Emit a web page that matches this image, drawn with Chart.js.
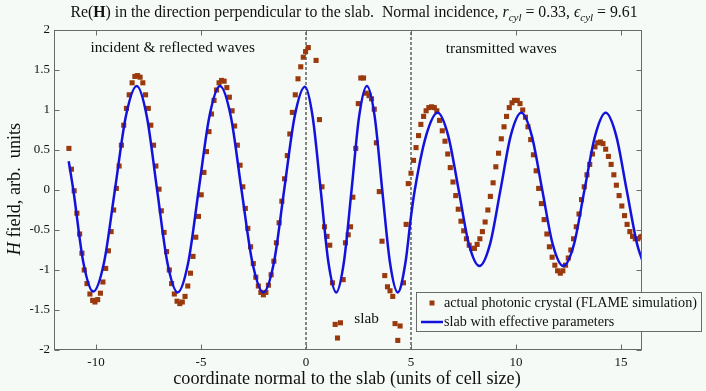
<!DOCTYPE html>
<html>
<head>
<meta charset="utf-8">
<script src="https://cdn.jsdelivr.net/npm/chart.js@4.4.0/dist/chart.umd.min.js"></script>
<style>
  body { margin: 0; background: #f6faf6; }
  canvas { display: block; }
</style>
</head>
<body>
<canvas id="chart" width="706" height="391"></canvas>
<script>
// FLAME simulation of the photonic crystal (squares)
const crystalX = [
  -11.29, -11.17, -11.04, -10.91, -10.78, -10.67, -10.56, -10.43, -10.29, -10.16,
  -10.05, -9.92, -9.79, -9.67, -9.54, -9.41, -9.28, -9.16, -9.03, -8.90,
  -8.79, -8.68, -8.55, -8.42, -8.28, -8.15, -8.02, -7.90, -7.77, -7.64,
  -7.51, -7.39, -7.26, -7.15, -7.00, -6.89, -6.76, -6.64, -6.51, -6.40,
  -6.27, -6.14, -6.01, -5.89, -5.76, -5.63, -5.50, -5.38, -5.25, -5.12,
  -4.99, -4.86, -4.74, -4.62, -4.50, -4.38, -4.26, -4.14, -4.02, -3.90,
  -3.77, -3.65, -3.52, -3.40, -3.27, -3.14, -3.01, -2.89, -2.77, -2.64,
  -2.51, -2.39, -2.27, -2.15, -2.03, -1.91, -1.79, -1.66, -1.53, -1.41,
  -1.28, -1.15, -1.02, -0.89, -0.77, -0.65, -0.51, -0.38, -0.25, -0.13,
  -0.02, 0.11, 0.48, 0.64, 0.76, 0.88, 1.00, 1.13, 1.26, 1.39,
  1.50, 1.64, 1.77, 1.88, 2.01, 2.12, 2.23, 2.37, 2.49, 2.61,
  2.74, 2.87, 3.00, 3.12, 3.25, 3.35, 3.49, 3.62, 3.75, 3.88,
  4.00, 4.13, 4.24, 4.37, 4.48, 4.64, 4.77, 4.87, 5.00, 5.12,
  5.24, 5.36, 5.47, 5.60, 5.72, 5.85, 5.98, 6.11, 6.23, 6.36,
  6.49, 6.62, 6.75, 6.87, 7.00, 7.13, 7.25, 7.38, 7.51, 7.64,
  7.77, 7.89, 8.02, 8.15, 8.28, 8.40, 8.53, 8.66, 8.78, 8.91,
  9.04, 9.17, 9.30, 9.43, 9.55, 9.68, 9.81, 9.93, 10.06, 10.19,
  10.32, 10.45, 10.57, 10.70, 10.83, 10.96, 11.08, 11.21, 11.34, 11.47,
  11.59, 11.72, 11.85, 11.98, 12.11, 12.23, 12.36, 12.49, 12.61, 12.74,
  12.87, 13.00, 13.12, 13.25, 13.38, 13.51, 13.64, 13.76, 13.89, 14.02,
  14.14, 14.27, 14.40, 14.53, 14.66, 14.78, 14.91, 15.04, 15.17, 15.29,
  15.42, 15.55, 15.68, 15.80, 15.93, 16.00
];
const crystalH = [
  0.52, 0.26, -0.01, -0.29, -0.55, -0.79, -1.00, -1.17, -1.30, -1.38,
  -1.40, -1.37, -1.29, -1.15, -0.98, -0.76, -0.52, -0.25, 0.02, 0.30,
  0.56, 0.81, 1.02, 1.19, 1.34, 1.42, 1.43, 1.41, 1.34, 1.19,
  1.02, 0.81, 0.56, 0.30, 0.01, -0.26, -0.53, -0.77, -1.00, -1.17,
  -1.30, -1.39, -1.42, -1.40, -1.33, -1.20, -1.04, -0.83, -0.59, -0.33,
  -0.06, 0.22, 0.48, 0.73, 0.95, 1.12, 1.25, 1.34, 1.37, 1.36,
  1.28, 1.16, 0.99, 0.80, 0.56, 0.31, 0.04, -0.23, -0.48, -0.71,
  -0.92, -1.09, -1.20, -1.28, -1.31, -1.28, -1.19, -1.06, -0.89, -0.66,
  -0.41, -0.14, 0.14, 0.43, 0.70, 0.97, 1.19, 1.39, 1.54, 1.66,
  1.73, 1.78, 1.62, 0.88, 0.04, -0.46, -0.58, -0.69, -1.16, -1.68,
  -1.85, -1.66, -1.12, -0.66, -0.56, -0.46, -0.09, 0.52, 1.08, 1.40,
  1.40, 1.21, 1.18, 1.14, 1.01, 0.59, -0.02, -0.64, -1.07, -1.21,
  -1.26, -1.33, -1.67, -1.88, -1.70, -1.16, -0.43, 0.08, 0.21, 0.37,
  0.53, 0.68, 0.82, 0.92, 0.99, 1.03, 1.04, 1.03, 0.99, 0.87,
  0.74, 0.61, 0.45, 0.28, 0.10, -0.07, -0.24, -0.39, -0.51, -0.61,
  -0.69, -0.73, -0.73, -0.68, -0.61, -0.52, -0.40, -0.25, -0.08, 0.09,
  0.29, 0.46, 0.64, 0.79, 0.92, 1.03, 1.09, 1.12, 1.12, 1.08,
  1.00, 0.91, 0.79, 0.63, 0.44, 0.24, 0.02, -0.17, -0.37, -0.55,
  -0.71, -0.84, -0.94, -1.01, -1.04, -1.01, -0.94, -0.85, -0.75, -0.61,
  -0.46, -0.30, -0.12, 0.04, 0.19, 0.32, 0.45, 0.54, 0.59, 0.60,
  0.58, 0.51, 0.42, 0.32, 0.19, 0.06, -0.07, -0.20, -0.32, -0.43,
  -0.52, -0.58, -0.61, -0.61, -0.59, -0.58
];

// homogeneous slab with effective parameters (blue curve)
const effectiveX = [
  -11.30, -11.08, -10.60, -10.13, -9.62, -9.10, -8.58, -8.06, -7.58, -7.09,
  -6.60, -6.11, -5.61, -5.11, -4.60, -4.10, -3.58, -3.07, -2.55, -2.03,
  -1.53, -1.04, -0.54, -0.05, 0.32, 0.70, 1.07, 1.44, 1.80, 2.17,
  2.53, 2.90, 3.27, 3.63, 4.00, 4.37, 4.74, 5.00, 5.18, 5.72,
  6.27, 6.77, 7.27, 7.76, 8.26, 8.76, 9.26, 9.75, 10.25, 10.75,
  11.25, 11.75, 12.25, 12.76, 13.26, 13.77, 14.27, 14.77, 15.27, 15.77, 16.00
];
const effectiveH = [
  0.36, 0.00, -0.91, -1.27, -0.91, 0.00, 0.92, 1.30, 0.92, 0.00,
  -0.91, -1.28, -0.91, 0.00, 0.92, 1.30, 0.92, 0.00, -0.91, -1.28,
  -0.91, 0.00, 0.92, 1.29, 0.91, 0.00, -0.91, -1.28, -0.91, 0.00,
  0.92, 1.30, 0.92, 0.00, -0.91, -1.28, -0.90, -0.33, 0.00, 0.68,
  0.965, 0.68, 0.00, -0.68, -0.95, -0.68, 0.00, 0.68, 0.965, 0.68,
  0.00, -0.68, -0.95, -0.68, 0.00, 0.68, 0.965, 0.68, 0.00, -0.68, -0.87
];

const slabEdges = [0, 5];
const xTicks = [-10, -5, 0, 5, 10, 15];
const yTicks = [-2, -1.5, -1, -0.5, 0, 0.5, 1, 1.5, 2];
const seriesNames = ["actual photonic crystal (FLAME simulation)", "slab with effective parameters"];

const bgColor = "#f6faf6";
const crystalColor = "#9a3a0c";
const slabColor = "#1212dc";
const serif = "'Liberation Serif', 'DejaVu Serif', serif";

Chart.defaults.font.family = serif;
Chart.defaults.color = "#111";

function toPoints(xs, ys) {
    return xs.map((x, i) => ({ x: x, y: ys[i] }));
}

// draw a row of text pieces with mixed styles
function drawRuns(ctx, runs, x, y, size, align) {
    let total = 0;
    const widths = runs.map(r => {
        const s = r.sub ? size * 0.7 : size;
        ctx.font = `${r.style || "normal"} ${r.weight || "normal"} ${s}px ${serif}`;
        const w = ctx.measureText(r.t).width;
        total += w;
        return w;
    });
    let cx = align === "center" ? x - total / 2 : x;
    ctx.textBaseline = "alphabetic";
    ctx.textAlign = "left";
    runs.forEach((r, i) => {
        const s = r.sub ? size * 0.7 : size;
        ctx.font = `${r.style || "normal"} ${r.weight || "normal"} ${s}px ${serif}`;
        ctx.fillText(r.t, cx, r.sub ? y + size * 0.25 : y);
        cx += widths[i];
    });
}

const canvasBg = {
    id: "canvasBg",
    beforeDraw(chart) {
        const ctx = chart.ctx;
        ctx.save();
        ctx.fillStyle = bgColor;
        ctx.fillRect(0, 0, chart.width, chart.height);
        ctx.restore();
    }
};

// box round the plot with ticks pointing inwards on all four sides
const frame = {
    id: "frame",
    afterDatasetsDraw(chart) {
        const { ctx, chartArea: a, scales } = chart;
        const l = Math.round(a.left) + 0.5, r = Math.round(a.right) - 0.5;
        const t = Math.round(a.top) + 0.5, b = Math.round(a.bottom) - 0.5;
        ctx.save();
        ctx.strokeStyle = "#6a6a6a";
        ctx.lineWidth = 1;
        ctx.strokeRect(l, t, r - l, b - t);
        ctx.beginPath();
        xTicks.forEach(v => {
            const px = Math.round(scales.x.getPixelForValue(v)) + 0.5;
            ctx.moveTo(px, b); ctx.lineTo(px, b - 5);
            ctx.moveTo(px, t); ctx.lineTo(px, t + 5);
        });
        yTicks.forEach(v => {
            const py = Math.round(scales.y.getPixelForValue(v)) + 0.5;
            ctx.moveTo(l, py); ctx.lineTo(l + 5, py);
            ctx.moveTo(r, py); ctx.lineTo(r - 5, py);
        });
        ctx.stroke();
        ctx.restore();
    }
};

const labels = {
    id: "labels",
    afterDraw(chart) {
        const { ctx, scales } = chart;
        ctx.save();
        ctx.fillStyle = "#111";

        drawRuns(ctx, [
            { t: "Re(" }, { t: "H", weight: "bold" },
            { t: ") in the direction perpendicular to the slab.  Normal incidence, " },
            { t: "r", style: "italic" }, { t: "cyl", style: "italic", sub: true },
            { t: " = 0.33, " },
            { t: "\u03F5", style: "italic" }, { t: "cyl", style: "italic", sub: true },
            { t: " = 9.61" }
        ], 354, 17, 15.8, "center");

        drawRuns(ctx, [{ t: "coordinate normal to the slab (units of cell size)" }], 347, 384, 18.2, "center");

        ctx.save();
        ctx.translate(20, 189);
        ctx.rotate(-Math.PI / 2);
        drawRuns(ctx, [{ t: "H", style: "italic" }, { t: " field, arb.  units" }], 0, 0, 18.2, "center");
        ctx.restore();

        const notes = [
            { t: "incident & reflected waves", x: -6.35, y: 1.78 },
            { t: "transmitted waves", x: 9.3, y: 1.76 },
            { t: "slab", x: 2.89, y: -1.61 }
        ];
        ctx.font = `15.3px ${serif}`;
        ctx.textAlign = "center";
        ctx.textBaseline = "middle";
        notes.forEach(n => {
            ctx.fillText(n.t, scales.x.getPixelForValue(n.x), scales.y.getPixelForValue(n.y));
        });

        // legend box
        ctx.fillStyle = bgColor;
        ctx.fillRect(416.5, 292.5, 285, 39);
        ctx.strokeStyle = "#6a6a6a";
        ctx.lineWidth = 1;
        ctx.strokeRect(416.5, 292.5, 285, 39);
        ctx.fillStyle = crystalColor;
        ctx.fillRect(429.5, 300.5, 5, 5);
        ctx.strokeStyle = slabColor;
        ctx.lineWidth = 2.5;
        ctx.beginPath();
        ctx.moveTo(421, 322);
        ctx.lineTo(443, 322);
        ctx.stroke();
        ctx.fillStyle = "#111";
        ctx.font = `14.2px ${serif}`;
        ctx.textAlign = "left";
        ctx.textBaseline = "middle";
        ctx.fillText(seriesNames[0], 444, 303);
        ctx.fillText(seriesNames[1], 444, 322);
        ctx.restore();
    }
};

const edgeSets = slabEdges.map(e => ({
    type: "line",
    data: [{ x: e, y: yTicks[0] }, { x: e, y: yTicks[yTicks.length - 1] }],
    borderColor: "#111",
    borderWidth: 1,
    borderDash: [3, 2],
    pointRadius: 0
}));

new Chart(document.getElementById("chart"), {
    type: "scatter",
    data: {
        datasets: [
            {
                type: "line",
                label: seriesNames[1],
                data: toPoints(effectiveX, effectiveH),
                borderColor: slabColor,
                borderWidth: 2.5,
                pointRadius: 0,
                cubicInterpolationMode: "monotone"
            },
            {
                label: seriesNames[0],
                data: toPoints(crystalX, crystalH),
                pointStyle: "rect",
                pointRadius: 3.6,
                pointBackgroundColor: crystalColor,
                pointBorderWidth: 0,
                backgroundColor: crystalColor
            },
            ...edgeSets
        ]
    },
    options: {
        responsive: false,
        animation: false,
        layout: { padding: { left: 0, right: 64, top: 30, bottom: 0 } },
        plugins: {
            legend: { display: false },
            tooltip: { enabled: false }
        },
        scales: {
            x: {
                type: "linear",
                min: -12,
                max: 16,
                grid: { display: false, drawTicks: false },
                border: { display: false },
                afterBuildTicks: s => { s.ticks = xTicks.map(v => ({ value: v })); },
                afterFit: s => { s.height = 41; },
                ticks: { font: { size: 13 }, color: "#111", padding: 5, maxRotation: 0, callback: v => String(v) }
            },
            y: {
                min: -2,
                max: 2,
                grid: { display: false, drawTicks: false },
                border: { display: false },
                afterBuildTicks: s => { s.ticks = yTicks.map(v => ({ value: v })); },
                afterFit: s => { s.width = 54; },
                ticks: { font: { size: 13 }, color: "#111", padding: 4, callback: v => String(v) }
            }
        }
    },
    plugins: [canvasBg, frame, labels]
});
</script>
</body>
</html>
